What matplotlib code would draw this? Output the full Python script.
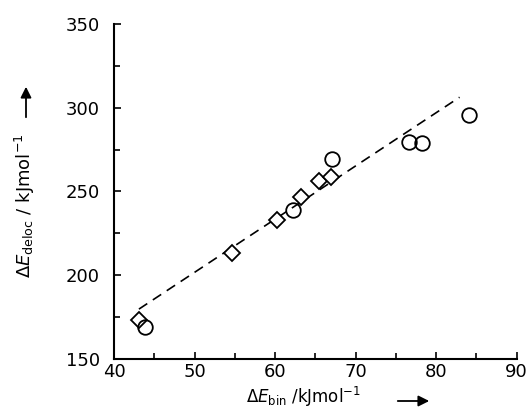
import matplotlib
matplotlib.use("Agg")
import matplotlib.pyplot as plt
from matplotlib.patches import FancyArrowPatch
from matplotlib.ticker import MultipleLocator

# diamonds
dia_x = [43.1, 54.7, 60.2, 63.2, 65.5, 66.9]
dia_y = [173.0, 213.4, 233.1, 246.9, 256.0, 258.6]
# circles
circ_x = [43.8, 62.2, 67.1, 76.6, 78.2, 84.1]
circ_y = [169.0, 238.8, 269.5, 279.2, 278.8, 295.7]
# dashed fit line end points
fit_x = [43.1, 82.9]
fit_y = [179.7, 306.2]

plt.rcParams['font.family'] = ['DejaVu Sans']
plt.rcParams['mathtext.fontset'] = 'dejavusans'

fig = plt.figure(figsize=(5.3, 4.12), dpi=100)
ax = fig.add_axes([0.215, 0.129, 0.76, 0.813])

ax.plot(fit_x, fit_y, color='black', lw=1.2, dashes=(6, 4), zorder=1)
ax.plot(dia_x, dia_y, 'D', ms=8.5, mfc='white', mec='black', mew=1.3, zorder=2)
ax.plot(circ_x, circ_y, 'o', ms=10.5, mfc='none', mec='black', mew=1.3, zorder=3)

ax.set_xlim(40, 90)
ax.set_ylim(150, 350)
ax.xaxis.set_major_locator(MultipleLocator(10))
ax.xaxis.set_minor_locator(MultipleLocator(5))
ax.yaxis.set_major_locator(MultipleLocator(50))
ax.yaxis.set_minor_locator(MultipleLocator(25))
ax.tick_params(which='both', direction='in', width=1.2, labelsize=13)
ax.tick_params(which='major', length=5)
ax.tick_params(which='minor', length=4)
ax.tick_params(axis='x', pad=3)
ax.tick_params(axis='y', pad=10)
ax.spines['top'].set_visible(False)
ax.spines['right'].set_visible(False)
ax.spines['left'].set_linewidth(1.5)
ax.spines['bottom'].set_linewidth(1.5)

# axis titles with arrows
fig.text(0.572, 1 - 403 / 412, r'$\Delta E_{\rm bin}$ /kJmol$^{-1}$', ha='center', va='baseline', fontsize=12)
fig.text(0.048, 0.5, r'$\Delta E_{\rm deloc}$ / kJmol$^{-1}$', ha='center', va='center',
         rotation=90, fontsize=13)
fig.add_artist(FancyArrowPatch(
    (395 / 530, 1 - 401 / 412), (432 / 530, 1 - 401 / 412), transform=fig.transFigure,
    arrowstyle='-|>', mutation_scale=16, color='black', lw=1.3))
fig.add_artist(FancyArrowPatch(
    (26 / 530, 1 - 120 / 412), (26 / 530, 1 - 84 / 412), transform=fig.transFigure,
    arrowstyle='-|>', mutation_scale=16, color='black', lw=1.3))

fig.savefig('out.png', dpi=100)
